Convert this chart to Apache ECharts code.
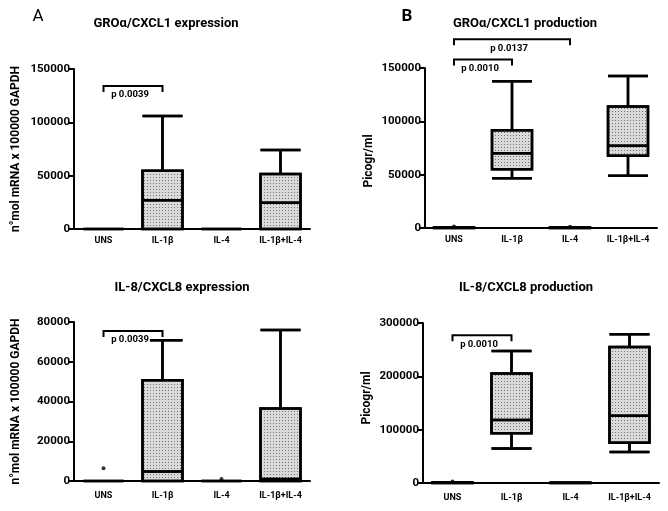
<!DOCTYPE html>
<html><head><meta charset="utf-8">
<script src="https://cdn.jsdelivr.net/npm/echarts@6/dist/echarts.min.js"></script>
<style>html,body{margin:0;padding:0;background:#fff}#c{width:668px;height:511px}</style>
</head><body><div id="c"></div>
<script>
// ---------- data ----------
const categories = ['UNS', 'IL-1β', 'IL-4', 'IL-1β+IL-4'];
// [min, Q1, median, Q3, max]
const groExpression = [[0, 0, 0, 0, 0], [0, 0, 27000, 54700, 106000], [0, 0, 0, 0, 0], [0, 0, 24500, 51500, 74000]];
const groProduction = [[0, 0, 200, 400, 700], [46600, 55000, 70000, 91600, 137500], [0, 0, 200, 400, 700], [49000, 67700, 77000, 114000, 142500]];
const il8Expression = [[0, 0, 0, 0, 0], [0, 0, 4800, 50700, 70800], [0, 0, 0, 0, 0], [0, 0, 1000, 36500, 76000]];
const il8Production = [[0, 0, 500, 1000, 1500], [64700, 93400, 118000, 205400, 247700], [0, 0, 0, 500, 1000], [57900, 75300, 126300, 255200, 278800]];
const groProdOutliers = [['UNS', 1500], ['IL-4', 1200]];
const il8ExprOutliers = [['UNS', 6400], ['IL-4', 1000]];
const il8ProdOutliers = [['UNS', 3000]];
// significance brackets: [from category, to category, height value, label]
const groExprSig = [['UNS', 'IL-1β', 134000, 'p 0.0039']];
const groProdSig = [['UNS', 'IL-1β', 158000, 'p 0.0010'], ['UNS', 'IL-4', 177000, 'p 0.0137']];
const il8ExprSig = [['UNS', 'IL-1β', 75500, 'p 0.0039']];
const il8ProdSig = [['UNS', 'IL-1β', 277000, 'p 0.0010']];
const yMax = [150000, 150000, 80000, 300000];
const yInterval = [50000, 50000, 20000, 100000];
const titles = ['GROα/CXCL1 expression', 'GROα/CXCL1 production', 'IL-8/CXCL8 expression', 'IL-8/CXCL8 production'];
const yNames = ['n°mol mRNA x 100000 GAPDH', 'Picogr/ml', 'n°mol mRNA x 100000 GAPDH', 'Picogr/ml'];

// ---------- chart ----------
const FONT = 'Roboto, "Liberation Sans", sans-serif';
const chart = echarts.init(document.getElementById('c'), null, {renderer: 'canvas'});
const grids = [
  {left: 74, top: 69, width: 236, height: 160},
  {left: 425, top: 68, width: 232, height: 160},
  {left: 74, top: 322, width: 236, height: 159},
  {left: 423, top: 323, width: 236, height: 160}
];
const boxes = [groExpression, groProduction, il8Expression, il8Production];
const outliers = [[], groProdOutliers, il8ExprOutliers, il8ProdOutliers];
const sigs = [groExprSig, groProdSig, il8ExprSig, il8ProdSig];
const nameGaps = [52, 50, 52, 50];
const namePads = [[0,0,0,0], [0, 26, 0, 0], [0,0,0,0], [0, 0, 0, 10]];

const xAxis = grids.map((g, i) => ({
  type: 'category', gridIndex: i, data: categories,
  axisLine: {lineStyle: {color: '#000', width: 2}},
  axisTick: {alignWithLabel: true, length: 4, lineStyle: {color: '#000', width: 2}},
  axisLabel: {color: '#000', fontWeight: 'bold', fontSize: 9, fontFamily: FONT, margin: i < 2 ? 7 : 10, interval: 0},
  splitLine: {show: false}
}));
const yAxis = grids.map((g, i) => ({
  type: 'value', gridIndex: i, min: 0, max: yMax[i], interval: yInterval[i],
  name: yNames[i], nameLocation: 'middle', nameGap: nameGaps[i],
  nameTextStyle: {color: '#000', fontWeight: 'bold', fontSize: 12, fontFamily: FONT, padding: namePads[i]},
  axisLine: {show: true, lineStyle: {color: '#000', width: 2}},
  axisTick: {show: true, length: 5, lineStyle: {color: '#000', width: 2}},
  axisLabel: {color: '#000', fontWeight: 'bold', fontSize: 11.5, fontFamily: FONT, margin: 4, formatter: v => String(v)},
  splitLine: {show: false}
}));

const series = [];
boxes.forEach((b, i) => {
  series.push({
    type: 'boxplot', xAxisIndex: i, yAxisIndex: i, data: b,
    boxWidth: [40, 40],
    itemStyle: {
      color: '#dadada', borderColor: '#000', borderWidth: 2.5,
      decal: {symbol: 'rect', symbolSize: 1, color: 'rgba(50,50,50,0.6)', dashArrayX: [[1, 2]], dashArrayY: [1, 2], rotation: 0}
    },
    emphasis: {disabled: true},
    z: 3
  });
  if (outliers[i].length) {
    series.push({
      type: 'scatter', xAxisIndex: i, yAxisIndex: i, data: outliers[i],
      symbol: 'circle', symbolSize: 4, itemStyle: {color: '#000'}, z: 4
    });
  }
  series.push({
    type: 'custom', xAxisIndex: i, yAxisIndex: i, clip: false, silent: true,
    data: sigs[i],
    encode: {x: [0, 1], y: 2},
    renderItem: function (params, api) {
      const a = api.coord([api.value(0), api.value(2)]);
      const b2 = api.coord([api.value(1), api.value(2)]);
      const lab = sigs[i][params.dataIndex][3];
      return {
        type: 'group',
        children: [
          {type: 'polyline', shape: {points: [[a[0], a[1] + 6], [a[0], a[1]], [b2[0], b2[1]], [b2[0], b2[1] + 6]]},
           style: {stroke: '#000', lineWidth: 2, fill: null}},
          {type: 'text', x: (a[0] + b2[0]) / 2 - 3, y: a[1] + 9, z2: 10,
           style: {text: lab, fill: '#000', font: 'bold 9.5px ' + FONT, align: 'center', verticalAlign: 'middle',
                   backgroundColor: '#fff', padding: [0, 1]}}
        ]
      };
    },
    z: 5
  });
});

const graphic = [
  {type: 'text', x: 166, y: 24, style: {text: titles[0], fill: '#000', font: 'bold 13px ' + FONT, align: 'center', verticalAlign: 'middle'}},
  {type: 'text', x: 525, y: 24, style: {text: titles[1], fill: '#000', font: 'bold 13px ' + FONT, align: 'center', verticalAlign: 'middle'}},
  {type: 'text', x: 182, y: 288, style: {text: titles[2], fill: '#000', font: 'bold 13px ' + FONT, align: 'center', verticalAlign: 'middle'}},
  {type: 'text', x: 526, y: 288, style: {text: titles[3], fill: '#000', font: 'bold 13px ' + FONT, align: 'center', verticalAlign: 'middle'}},
  {type: 'text', x: 38, y: 17, style: {text: 'A', fill: '#000', font: '17px ' + FONT, align: 'center', verticalAlign: 'middle'}},
  {type: 'text', x: 407, y: 17, style: {text: 'B', fill: '#000', font: 'bold 17px ' + FONT, align: 'center', verticalAlign: 'middle'}}
];

chart.setOption({
  animation: false,
  backgroundColor: '#fff',
  grid: grids,
  xAxis: xAxis,
  yAxis: yAxis,
  series: series,
  graphic: graphic
});
</script></body></html>
